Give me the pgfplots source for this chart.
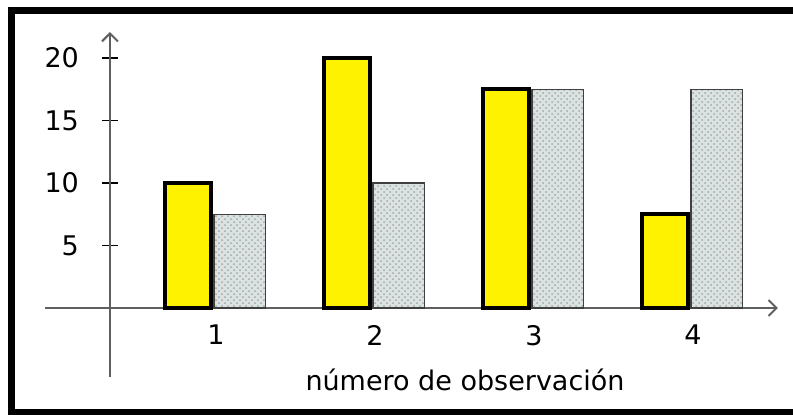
\documentclass[border=0pt]{standalone}
\usepackage{pgfplots}
\pgfplotsset{compat=1.18}
\usepackage{fontspec}
\setmainfont{DejaVu Sans}
\usetikzlibrary{patterns,arrows.meta}
\definecolor{patbg}{RGB}{218,226,226}
\definecolor{axgray}{RGB}{95,95,95}
\begin{document}
\begin{tikzpicture}
\begin{axis}[
  x=79.5pt, y=6.25pt,
  xmin=0.352, xmax=4.553, ymin=0, ymax=22.08,
  axis line style={draw=none},
  clip=false,
  xtick={1,2,3,4}, ytick={5,10,15,20},
  xtick pos=bottom, ytick pos=left,
  xtick style={draw=none},
  ytick style={draw=black, line width=0.8pt},
  tick align=center,
  major tick length=8pt,
  ticklabel style={font=\fontsize{13.5}{16}\selectfont},
  xticklabel style={xshift=1.5pt, yshift=-1pt},
  yticklabel style={xshift=-8pt},
  /pgf/number format/assume math mode=true,
]
% axes
\draw[axgray, line width=1pt, -{Straight Barb[length=4pt,width=8pt]}] (axis cs:-0.057,0) -- (axis cs:4.553,0);
\draw[axgray, line width=1pt, -{Straight Barb[length=4pt,width=8pt]}] (axis cs:0.352,-5.52) -- (axis cs:0.352,22.08);
% pattern series
\addplot[ybar, bar width=0.324, bar shift=0.167, draw=black!75, line width=0.75pt,
  fill=patbg, postaction={pattern=crosshatch dots, pattern color=gray!70}]
  coordinates {(1,7.5) (2,10) (3,17.5) (4,17.5)};
% yellow series
\addplot[ybar, bar width=0.289, bar shift=-0.157, draw=black, line width=2pt, fill=yellow]
  coordinates {(1,10) (2,20) (3,17.5) (4,7.5)};
\node[font=\fontsize{13.5}{16}\selectfont] at (axis cs:2.585,-5.76) {número de observación};
\draw[line width=3.5pt] (axis cs:-0.2673,-8.36) rectangle (axis cs:4.75,23.8);
\coordinate (bbl) at (axis cs:-0.3396,-8.48);
\coordinate (btr) at (axis cs:4.6478,24.64);
\end{axis}
\pgfresetboundingbox
\useasboundingbox (bbl) rectangle (btr);
\end{tikzpicture}
\end{document}
